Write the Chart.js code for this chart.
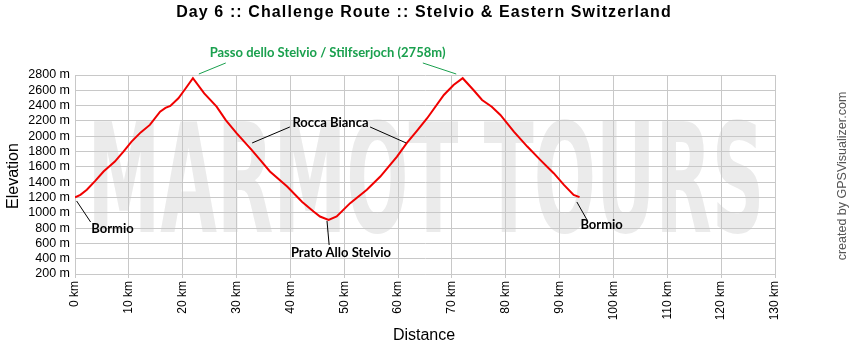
<!DOCTYPE html>
<html>
<head>
<meta charset="utf-8">
<script src="https://cdn.jsdelivr.net/npm/chart.js@4.4.1/dist/chart.umd.min.js"></script>
<style>
    html, body { margin: 0; padding: 0; background: #fff; }
    canvas { display: block; }
</style>
</head>
<body>
<canvas id="profile_chart" width="850" height="350"></canvas>
<script>
// elevation profile (km / m)
var distances = [0, 1.0, 2.2, 3.8, 5.3, 6.3, 7.4, 9.0, 10.5, 12.2, 13.9, 15.8, 16.8, 17.7, 19.2, 20.5, 21.9,
    24.0, 26.3, 28.0, 30.0, 32.8, 34.5, 36.2, 39.4, 42.2, 44.3, 45.5, 47.1,
    48.6, 51.1, 54.2, 56.7, 59.8, 61.6, 63.5, 65.4, 68.5, 70.3, 72.0,
    74.0, 75.6, 77.4, 79.0, 81.5, 84.0, 86.4, 88.9, 90.8, 92.6, 93.7];
var elevations = [1200, 1235, 1300, 1420, 1539, 1600, 1669, 1800, 1930, 2050, 2148, 2321, 2370, 2395, 2496, 2620, 2758,
    2560, 2386, 2210, 2040, 1822, 1680, 1539, 1343, 1140, 1017, 951, 908,
    951, 1126, 1300, 1473, 1734, 1909, 2070, 2235, 2539, 2669, 2758,
    2604, 2474, 2386, 2278, 2060, 1865, 1691, 1517, 1365, 1234, 1204];
var distanceTicks = [0, 10, 20, 30, 40, 50, 60, 70, 80, 90, 100, 110, 120, 130];
var elevationTicks = [200, 400, 600, 800, 1000, 1200, 1400, 1600, 1800, 2000, 2200, 2400, 2600, 2800];

// place names: leader line (km, m) -> (km, m), text centre (km, m)
var placeNames = ['Passo dello Stelvio / Stilfserjoch (2758m)', 'Rocca Bianca', 'Bormio', 'Prato Allo Stelvio', 'Bormio'];
var placeLines = [
    [[28.0, 2957, 23.0, 2813], [64.6, 2957, 70.8, 2813]],
    [[39.9, 2121, 32.9, 1912], [54.8, 2121, 61.5, 1912]],
    [[0.3, 1154, 2.9, 879]],
    [[46.8, 893, 47.2, 579]],
    [[93.2, 1141, 95.1, 906]]
];
var placeText = [[46.9, 3087], [47.45, 2173], [6.96, 788], [49.4, 474], [97.8, 840]];
var placeColor = ['#1aa04e', '#000', '#000', '#000', '#000'];

var points = distances.map(function (d, i) { return {x: d, y: elevations[i]}; });
var baseFont = '"Liberation Sans", Arial, sans-serif';

var decorations = {
    id: 'decorations',
    beforeDraw: function (chart) {
        var ctx = chart.ctx, a = chart.chartArea;
        ctx.save();
        ctx.fillStyle = '#fff';
        ctx.fillRect(0, 0, chart.width, chart.height);
        // watermark
        ctx.beginPath();
        ctx.rect(a.left, a.top, a.right - a.left, a.bottom - a.top);
        ctx.clip();
        ctx.fillStyle = '#ebebeb';
        ctx.font = 'bold 152px "Liberation Sans Narrow", "DejaVu Sans Condensed", ' + baseFont;
        ctx.textAlign = 'center';
        ctx.textBaseline = 'alphabetic';
        ctx.fillText('MARMOT TOURS', 426, 232, 677);
        ctx.restore();
    },
    afterDraw: function (chart) {
        var ctx = chart.ctx, xs = chart.scales.x, ys = chart.scales.y;
        ctx.save();
        // titles
        ctx.fillStyle = '#000';
        ctx.textAlign = 'center';
        ctx.textBaseline = 'middle';
        ctx.font = 'bold 16px ' + baseFont;
        ctx.letterSpacing = '1.1px';
        ctx.fillText('Day 6 :: Challenge Route :: Stelvio & Eastern Switzerland', 424, 13);
        ctx.letterSpacing = '0px';
        ctx.font = '16px ' + baseFont;
        ctx.fillText('Distance', 424, 336);
        ctx.save();
        ctx.translate(14, 176);
        ctx.rotate(-Math.PI / 2);
        ctx.fillText('Elevation', 0, 0);
        ctx.restore();
        ctx.save();
        ctx.translate(843, 176);
        ctx.rotate(-Math.PI / 2);
        ctx.fillStyle = '#555';
        ctx.font = '12.5px ' + baseFont;
        ctx.fillText('created by GPSVisualizer.com', 0, 0);
        ctx.restore();

        // place names
        ctx.font = 'bold 13px Lato, "Noto Sans", sans-serif';
        ctx.lineWidth = 1;
        placeNames.forEach(function (name, i) {
            ctx.strokeStyle = placeColor[i];
            ctx.fillStyle = placeColor[i];
            placeLines[i].forEach(function (l) {
                ctx.beginPath();
                ctx.moveTo(xs.getPixelForValue(l[0]), ys.getPixelForValue(l[1]));
                ctx.lineTo(xs.getPixelForValue(l[2]), ys.getPixelForValue(l[3]));
                ctx.stroke();
            });
            ctx.fillText(name, xs.getPixelForValue(placeText[i][0]), ys.getPixelForValue(placeText[i][1]));
        });
        ctx.restore();
    }
};

var chart = new Chart(document.getElementById('profile_chart').getContext('2d'), {
    type: 'line',
    data: {
        datasets: [{
            data: points,
            borderColor: 'rgb(240, 0, 0)',
            borderWidth: 2,
            pointRadius: 0,
            tension: 0,
            fill: false
        }]
    },
    options: {
        responsive: false,
        animation: false,
        devicePixelRatio: 1,
        layout: { padding: { top: 75, right: 75, left: 0, bottom: 0 } },
        plugins: { legend: { display: false }, tooltip: { enabled: false } },
        scales: {
            x: {
                type: 'linear',
                min: distanceTicks[0],
                max: distanceTicks[distanceTicks.length - 1],
                afterBuildTicks: function (scale) {
                    scale.ticks = distanceTicks.map(function (v) { return {value: v}; });
                },
                afterFit: function (scale) { scale.height = 76; },
                grid: { color: '#c8c8c8', tickLength: 4 },
                border: { color: '#c8c8c8' },
                ticks: {
                    autoSkip: false,
                    minRotation: 90, maxRotation: 90, padding: 3,
                    color: '#000', font: { family: baseFont, size: 12 },
                    callback: function (v) { return v + ' km'; }
                }
            },
            y: {
                min: elevationTicks[0],
                max: elevationTicks[elevationTicks.length - 1],
                afterBuildTicks: function (scale) {
                    scale.ticks = elevationTicks.map(function (v) { return {value: v}; });
                },
                afterFit: function (scale) { scale.width = 75; },
                grid: { color: '#c8c8c8', tickLength: 0 },
                border: { color: '#c8c8c8' },
                ticks: {
                    autoSkip: false,
                    padding: 5,
                    color: '#000', font: { family: baseFont, size: 12.5 },
                    callback: function (v) { return v + ' m'; }
                }
            }
        }
    },
    plugins: [decorations]
});
</script>
</body>
</html>
